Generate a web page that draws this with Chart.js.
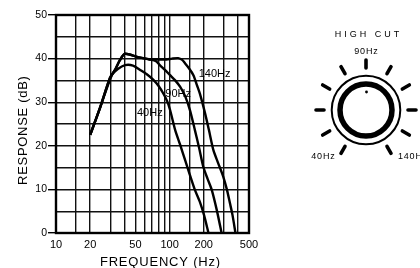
<!DOCTYPE html>
<html><head><meta charset="utf-8">
<script src="https://cdn.jsdelivr.net/npm/chart.js@4.4.1/dist/chart.umd.min.js"></script>
<style>
html,body{margin:0;padding:0;background:#fff;}
canvas{display:block;}
</style></head><body>
<canvas id="c" width="420" height="268"></canvas>
<script>
// ---- data ----
const seriesNames = ['40Hz', '90Hz', '140Hz'];
const freq40 = [20, 24.4, 31, 35, 40.5, 47.6, 55, 63, 72, 80, 88, 95, 101, 112, 124, 137, 151, 167, 185, 201, 220];
const db40   = [22.5, 28.7, 36.2, 37.6, 38.5, 38.4, 37.4, 36.4, 35.1, 33.7, 32.0, 30.3, 28.2, 23.6, 20.2, 16.7, 13.3, 9.9, 7.1, 4.1, 0];
const freq90 = [20, 24.4, 29.9, 33.1, 36.6, 40.5, 51.6, 67, 76, 82, 91, 101, 112, 124, 137, 151, 167, 182, 198, 216, 235, 260, 287];
const db90   = [22.5, 28.7, 35.6, 37.4, 39.7, 41.1, 40.4, 39.8, 39.4, 38.5, 37.4, 36.2, 35.0, 33.5, 31.4, 28.2, 23.6, 19.5, 15.2, 12.4, 9.9, 5.3, 0];
const freq140 = [20, 24.4, 29.9, 33.1, 36.6, 40.5, 51.6, 67, 77, 94, 105, 119, 129, 137, 148, 162, 174, 185, 205, 222, 243, 267, 297, 320, 340, 358, 380];
const db140   = [22.5, 28.7, 35.6, 37.4, 39.7, 41.1, 40.4, 39.8, 39.8, 39.8, 40.0, 40.1, 39.7, 38.9, 37.8, 36.2, 33.9, 31.9, 27.5, 23.6, 19.0, 16.1, 12.9, 9.9, 6.8, 4.1, 0];
const xGridValues = [10, 15, 20, 30, 40, 50, 60, 70, 80, 90, 100, 150, 200, 300, 400, 500];
const xLabelValues = [10, 20, 50, 100, 200, 500];
const yMin = 0, yMax = 50, yGridStep = 5, yLabelStep = 10;
const xTitle = 'FREQUENCY (Hz)';
const yTitle = 'RESPONSE (dB)';
const curveLabelFreqs = [67, 119, 249];
const curveLabelDbs = [27.5, 31.9, 36.4];
const knobTitle = 'HIGH CUT';
const knobTopLabel = '90Hz';
const knobLeftLabel = '40Hz';
const knobRightLabel = '140Hz';

// ---- build datasets ----
function pts(fs, ds) { return fs.map((f, i) => ({ x: f, y: ds[i] })); }
const allFreqs = [freq40, freq90, freq140];
const allDbs = [db40, db90, db140];
const datasets = seriesNames.map((n, i) => ({
  label: n,
  data: pts(allFreqs[i], allDbs[i]),
  borderColor: '#000',
  borderWidth: 2.4,
  pointRadius: 0,
  tension: 0.25,
  fill: false
}));

const FONT = "'Liberation Sans', Arial, sans-serif";

const decorPlugin = {
  id: 'decor',
  afterDraw(chart) {
    const ctx = chart.ctx;
    const a = chart.chartArea;
    const xs = chart.scales.x, ys = chart.scales.y;
    ctx.save();
    // frame
    ctx.strokeStyle = '#000';
    ctx.lineWidth = 2.4;
    ctx.strokeRect(a.left, a.top, a.right - a.left, a.bottom - a.top);
    // curve labels
    ctx.fillStyle = '#000';
    ctx.font = '11px ' + FONT;
    ctx.textAlign = 'center';
    ctx.textBaseline = 'middle';
    seriesNames.forEach((n, i) => {
      ctx.fillText(n, xs.getPixelForValue(curveLabelFreqs[i]), ys.getPixelForValue(curveLabelDbs[i]));
    });
    // axis titles
    ctx.font = '13px ' + FONT;
    ctx.letterSpacing = '0.8px';
    ctx.fillText(xTitle, 160 + 0.4, 262);
    ctx.save();
    ctx.translate(23.5, 130.5);
    ctx.rotate(-Math.PI / 2);
    ctx.letterSpacing = '0.7px';
    ctx.fillText(yTitle, 0.35, 0);
    ctx.restore();
    ctx.letterSpacing = '0px';

    // knob illustration
    const cx = 366, cy = 110;
    ctx.beginPath();
    ctx.lineWidth = 2;
    ctx.arc(cx, cy, 34.3, 0, Math.PI * 2);
    ctx.stroke();
    ctx.beginPath();
    ctx.lineWidth = 5.5;
    ctx.arc(cx, cy, 26, 0, Math.PI * 2);
    ctx.stroke();
    ctx.beginPath();
    ctx.arc(cx + 0.5, cy - 18, 1.4, 0, Math.PI * 2);
    ctx.fill();
    ctx.lineWidth = 3.6;
    ctx.lineCap = 'round';
    for (let i = -5; i <= 5; i++) {
      const ang = i * Math.PI / 6;
      const s = Math.sin(ang), c = Math.cos(ang);
      ctx.beginPath();
      ctx.moveTo(cx + s * 42, cy - c * 42);
      ctx.lineTo(cx + s * 50, cy - c * 50);
      ctx.stroke();
    }
    ctx.font = '9px ' + FONT;
    ctx.letterSpacing = '3px';
    ctx.fillText(knobTitle, 367 + 1.5, 35);
    ctx.letterSpacing = '0.8px';
    ctx.fillText(knobTopLabel, 366 + 0.4, 52);
    ctx.fillText(knobLeftLabel, 323 + 0.4, 157);
    ctx.textAlign = 'left';
    ctx.fillText(knobRightLabel, 398, 157);
    ctx.restore();
  }
};

new Chart(document.getElementById('c'), {
  type: 'line',
  data: { datasets },
  options: {
    responsive: false,
    animation: false,
    devicePixelRatio: 1,
    layout: { padding: { top: 15, right: 171, left: 0, bottom: 0 } },
    plugins: { legend: { display: false }, tooltip: { enabled: false } },
    scales: {
      x: {
        type: 'logarithmic',
        min: 10, max: 500,
        afterBuildTicks: (s) => { s.ticks = xGridValues.map(v => ({ value: v })); },
        afterFit: (s) => { s.height = 35; },
        ticks: {
          autoSkip: false, maxRotation: 0, padding: 5,
          color: '#000',
          font: { family: FONT, size: 11 },
          callback: (v) => xLabelValues.includes(v) ? String(v) : ''
        },
        grid: { color: '#111', lineWidth: 1.4, drawTicks: false },
        border: { display: true, color: '#000', width: 2 }
      },
      y: {
        type: 'linear',
        min: yMin, max: yMax,
        afterFit: (s) => { s.width = 56; },
        ticks: {
          stepSize: yGridStep, padding: 1,
          color: '#000',
          font: { family: FONT, size: 10.5 },
          callback: (v) => (v % yLabelStep === 0) ? String(v) : ''
        },
        grid: {
          color: '#111', lineWidth: 1.4, tickLength: 8,
          tickColor: (c) => (c.tick && c.tick.value % yLabelStep === 0) ? '#000' : 'rgba(0,0,0,0)'
        },
        border: { display: true, color: '#000', width: 2 }
      }
    }
  },
  plugins: [decorPlugin]
});
</script>
</body></html>
